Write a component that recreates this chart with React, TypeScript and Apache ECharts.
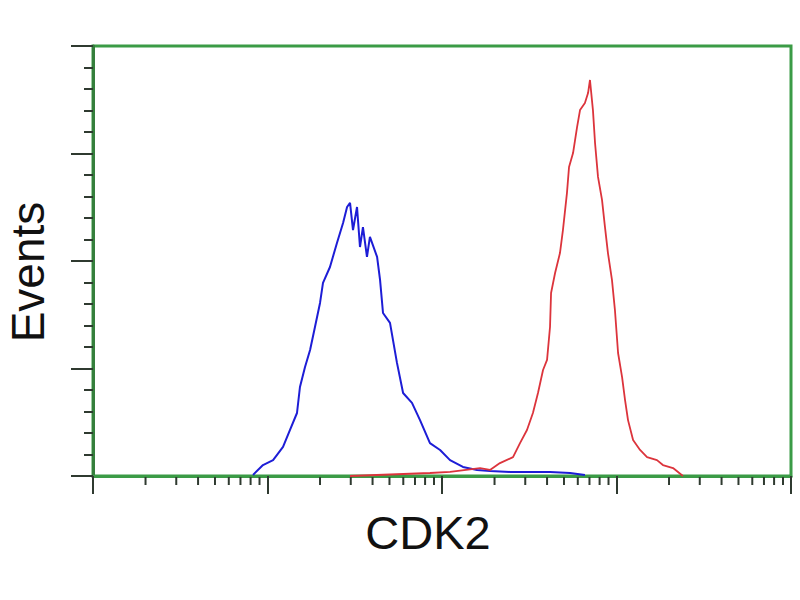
import React, { useEffect, useRef } from "react";
import * as echarts from "echarts";

// Histogram traces: x as log10(fluorescence intensity), y as event counts
const blueLogX = [0.917, 0.974, 1.032, 1.089, 1.129, 1.169, 1.186, 1.215, 1.244, 1.272, 1.301, 1.318, 1.358, 1.398, 1.433, 1.456, 1.473, 1.49, 1.513, 1.53, 1.547, 1.57, 1.587, 1.628, 1.645, 1.662, 1.702, 1.742, 1.777, 1.828, 1.874, 1.931, 1.989, 2.046, 2.12, 2.201, 2.275, 2.39, 2.504, 2.619, 2.734, 2.819];
const blueCounts = [0.5, 5.1, 7.4, 13.5, 21.4, 29.3, 41.4, 50.7, 58.6, 69.3, 80.5, 89.8, 97.2, 108.4, 117.7, 125.1, 127.0, 114.4, 125.1, 106.5, 115.8, 101.9, 111.2, 101.9, 91.2, 75.8, 71.2, 52.6, 38.6, 34.0, 26.0, 15.3, 12.1, 7.4, 4.2, 2.8, 2.3, 1.9, 1.9, 1.9, 1.4, 0.5];

const redLogX = [1.473, 1.931, 2.046, 2.218, 2.275, 2.332, 2.407, 2.447, 2.487, 2.521, 2.55, 2.579, 2.602, 2.619, 2.625, 2.648, 2.676, 2.693, 2.716, 2.728, 2.751, 2.774, 2.791, 2.819, 2.837, 2.848, 2.865, 2.877, 2.894, 2.917, 2.934, 2.951, 2.974, 2.991, 3.009, 3.032, 3.049, 3.066, 3.095, 3.135, 3.175, 3.232, 3.266, 3.324, 3.381];
const redCounts = [0, 1.4, 1.9, 3.7, 2.8, 6.0, 8.8, 15.3, 21.4, 29.3, 38.6, 49.3, 54.0, 69.3, 85.1, 94.4, 103.7, 114.4, 131.6, 143.7, 150.2, 162.3, 170.2, 173.5, 178.1, 184.2, 170.2, 154.9, 139.1, 128.4, 115.8, 103.7, 91.2, 77.2, 57.2, 46.0, 35.3, 26.0, 16.7, 12.1, 8.8, 7.4, 5.1, 3.7, 0];

const decades = [1, 10, 100, 1000];
const minorMultipliers = [2, 3, 4, 5, 6, 7, 8, 9];

const xTitle = "CDK2";
const yTitle = "Events";

export default function App() {
  const ref = useRef<HTMLDivElement>(null);
  useEffect(() => {
    if (!ref.current) return;
    const chart = echarts.init(ref.current, null, { renderer: "svg" });
    const green = "#3b9b46";
    const tickColor = "#2f3a30";
    const blueData = blueLogX.map((lx, i) => [Math.pow(10, lx), blueCounts[i]]);
    const redData = redLogX.map((lx, i) => [Math.pow(10, lx), redCounts[i]]);
    const minorTicks: number[][] = [];
    decades.forEach((d) => minorMultipliers.forEach((m) => minorTicks.push([m * d, 0])));

    chart.setOption({
      animation: false,
      backgroundColor: "#ffffff",
      grid: {
        left: 93,
        right: 9,
        top: 46,
        bottom: 124,
        show: true,
        borderColor: green,
        borderWidth: 3,
        backgroundColor: "transparent",
      },
      xAxis: {
        type: "log",
        logBase: 10,
        min: 1,
        max: 10000,
        axisLine: { show: true, lineStyle: { color: green, width: 3 } },
        axisTick: { show: true, length: 18, lineStyle: { color: tickColor, width: 2 } },
        axisLabel: { show: false },
        splitLine: { show: false },
        minorTick: { show: false },
      },
      yAxis: {
        type: "value",
        min: 0,
        max: 200,
        interval: 50,
        axisLine: { show: true, lineStyle: { color: "#357f3c", width: 3 } },
        axisTick: { show: true, length: 22, lineStyle: { color: tickColor, width: 2 } },
        minorTick: { show: true, splitNumber: 5, length: 9, lineStyle: { color: tickColor, width: 2 } },
        axisLabel: { show: false },
        splitLine: { show: false },
        minorSplitLine: { show: false },
      },
      graphic: [
        {
          type: "text",
          x: 28,
          y: 272,
          rotation: Math.PI / 2,
          style: {
            text: yTitle,
            font: '46px "Liberation Sans", Arial, sans-serif',
            fill: "#111111",
            textAlign: "center",
            textVerticalAlign: "middle",
          },
        },
        {
          type: "text",
          x: 428,
          y: 532,
          style: {
            text: xTitle,
            font: '47px "Liberation Sans", Arial, sans-serif',
            fill: "#111111",
            textAlign: "center",
            textVerticalAlign: "middle",
          },
        },
      ],
      series: [
        {
          type: "custom",
          data: minorTicks,
          clip: false,
          silent: true,
          renderItem: (params: any, api: any) => {
            const p = api.coord([api.value(0), 0]);
            return {
              type: "line",
              shape: { x1: p[0], y1: p[1] + 1, x2: p[0], y2: p[1] + 9 },
              style: { stroke: tickColor, lineWidth: 2 },
            };
          },
        },
        {
          type: "line",
          data: blueData,
          showSymbol: false,
          lineStyle: { color: "#1d1dd6", width: 2 },
          z: 3,
        },
        {
          type: "line",
          data: redData,
          showSymbol: false,
          lineStyle: { color: "#dc343c", width: 1.8 },
          z: 3,
        },
      ],
    });
    return () => chart.dispose();
  }, []);
  return (
    <div
      ref={ref}
      style={{ position: "fixed", left: 0, top: 0, width: 800, height: 600, background: "#fff" }}
    />
  );
}
